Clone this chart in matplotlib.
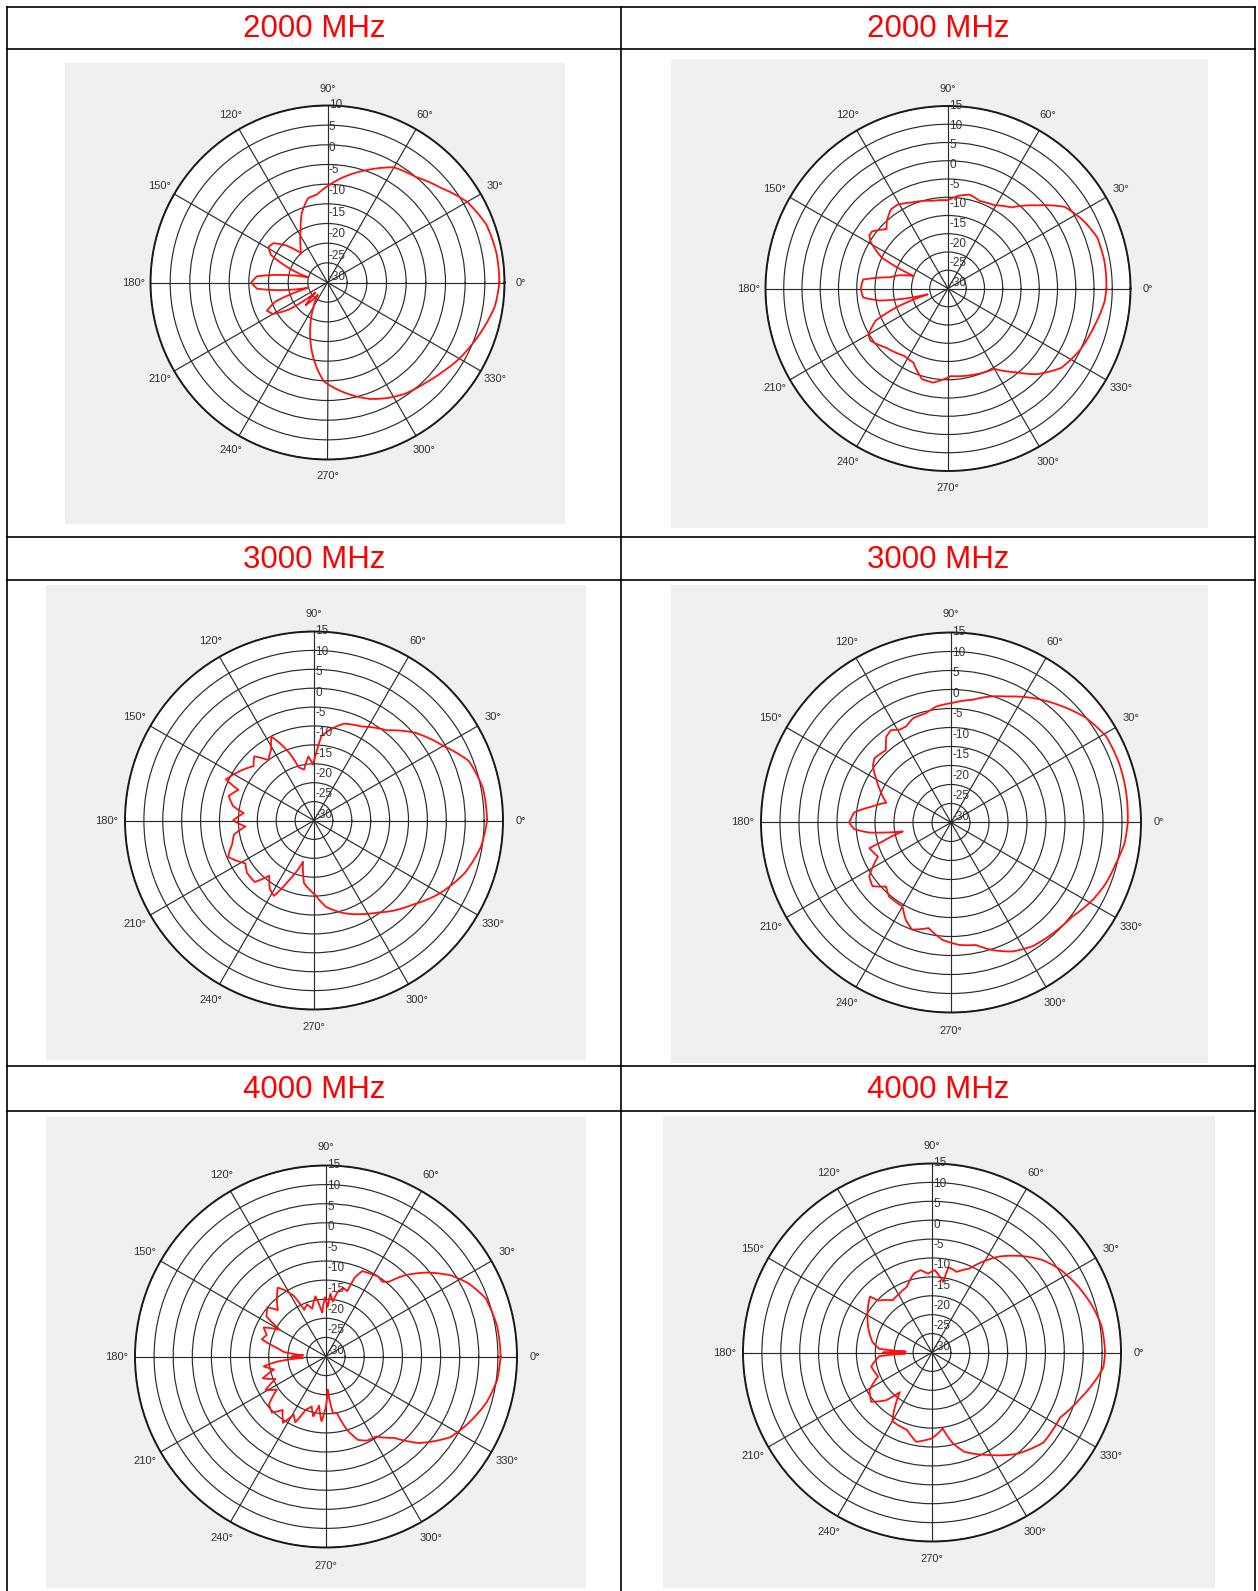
import numpy as np
import matplotlib
matplotlib.use('Agg')
import matplotlib.pyplot as plt
from matplotlib.patches import Rectangle

plt.rcParams['font.family'] = ['Liberation Sans', 'DejaVu Sans']

W, H = 1258, 1591
RMIN = -35

# 1. Radiation patterns: angle (deg) -> gain (dB)
tl_ang = [0, 10, 20, 30, 40, 50, 60, 70, 80, 90, 97, 103, 110, 117, 125, 132, 138, 144, 149, 154,
          160, 165, 170, 175, 180, 185, 190, 195, 200, 205, 210, 215, 220, 226, 232, 240, 247, 253, 258, 263,
          268, 279, 290, 297, 305, 314, 322, 330, 337, 344, 352, 360]
tl_db = [8.7, 8.6, 8.0, 6.0, 2.5, 0.0, -1.2, -4.5, -7.5, -10.5, -12.5, -13.0, -16, -20, -23, -25, -21, -18, -17.5, -19,
         -25, -30, -24, -17, -15.6, -17, -24, -30, -21, -18, -19, -23, -31, -27, -31, -28, -24, -20, -16.5, -13,
         -9.8, -6.6, -3.5, -2, -0.5, 0.6, 2.0, 3.7, 5.0, 6.4, 8.0, 8.7]

tr_ang = [0, 10, 19, 27, 35, 43, 52, 61, 70, 77, 84, 90, 100, 113, 121, 126, 132, 136, 143, 146,
          149, 155, 160, 165, 169, 174, 180, 186, 190, 196, 200, 204, 210, 214, 224, 237, 245, 254, 261, 272,
          286, 300, 309, 316, 325, 335, 345, 355, 360]
tr_db = [8.4, 8.5, 8.2, 6.4, 4.0, -1.6, -6.8, -8.9, -9.5, -8.6, -9.5, -10.8, -10.6, -9.4, -8.2, -8.3, -10, -11.6, -9, -9,
         -10.3, -15, -25, -21, -18.9, -11.6, -11.1, -11.6, -16, -29.2, -20, -13.3, -9.8, -9.4, -11.6, -13, -12.6, -9.2, -8.9, -11,
         -10.4, -9.6, -5.5, -1.2, 2.9, 4.9, 6.3, 8.0, 8.4]

ml_ang = [0, 11, 21, 30, 41, 51, 63, 73, 80, 85, 88, 91, 95, 101, 106, 110, 114, 117, 121, 127,
          133, 138, 144, 150, 155, 158, 164, 170, 174, 180, 185, 190, 196, 203, 212, 218, 226, 231, 237, 242,
          247, 255, 261, 271, 278, 288, 297, 305, 312, 319, 330, 341, 351, 360]
ml_db = [10.8, 10.5, 8.9, 4.5, 0.4, -4.3, -7.1, -8.2, -10.6, -12.6, -17.1, -20.2, -18, -21.3, -20.4, -16, -12.5, -10.1, -13, -15,
         -11.8, -13.5, -12, -10.5, -9.3, -13.4, -11.5, -13.3, -16.3, -13.6, -16.8, -13.5, -12.5, -10.3, -13.6, -12.5, -12.4, -16.2, -13.5, -12.4,
         -17.6, -23.7, -18.2, -15.3, -11.9, -9.2, -7.2, -5.3, -3, -0.9, 3.5, 7.3, 9.7, 10.8]

mr_ang = [0, 11, 19, 29, 38, 47, 57, 66, 73, 80, 90, 97, 103, 110, 115, 119, 123, 127, 132, 140,
          144, 150, 155, 163, 169, 174, 180, 184, 187, 190.5, 195.5, 197.5, 205, 208, 213.5, 219, 224.6, 230, 240, 245,
          250, 258, 266, 274, 281.5, 288, 295.5, 303.4, 312.6, 322.3, 331.4, 338.6, 346, 353.2, 360]
mr_db = [11.5, 11.8, 11.9, 11.7, 9.9, 7.1, 4.1, 1.3, -0.35, -2.2, -3.6, -4.2, -5.5, -5.8, -7.1, -7.1, -6, -6.7, -9.4, -8.7,
         -9.6, -12.3, -14.3, -17.2, -13.5, -9.4, -8.2, -9.5, -13.3, -22.1, -16.3, -12.5, -13.8, -12.2, -9.2, -8.4, -11, -9.6, -9.5, -6.8,
         -5, -6.6, -4, -2.7, -2.1, 0.3, 2.6, 4, 4.6, 5.4, 7.5, 8.8, 9.7, 11, 11.5]

bl_ang = [0, 10, 20, 27, 33, 40, 46, 50, 53, 57, 63, 67, 70, 72, 76, 80, 83, 86, 88, 91,
          95, 100, 106, 110, 115, 118, 122, 125, 130, 136, 140, 146, 150, 155, 160, 165, 170, 174, 177, 180,
          183, 186, 189, 194, 199, 204, 209, 214, 220, 226, 231, 237, 241, 245, 249, 254, 258, 262, 266, 270,
          273, 277, 281, 286, 291, 296, 302, 310, 317, 327, 335, 344, 352, 360]
bl_db = [10.7, 10.5, 9.5, 7, 4, -0.8, -5.5, -9.5, -10.5, -10, -10.5, -10.7, -13, -17, -16.5, -18, -20.5, -18.5, -22, -19.5,
         -23.5, -19, -22, -20.5, -21.5, -17, -14.5, -13, -15, -17.5, -15, -16.2, -21, -17, -18.5, -17.6, -22, -24, -29, -26,
         -29, -22, -18.5, -21, -17.5, -20.5, -16.9, -19.5, -15.5, -14.6, -17, -14.3, -17.6, -16, -20, -21.4, -19, -22, -18, -22,
         -26.3, -20, -19.9, -15, -11.6, -10.5, -10.3, -7.2, -1.8, 3.8, 6.2, 8.7, 10.2, 10.7]

br_ang = [0, 9, 16, 24, 33, 40, 47, 55, 61, 66, 73, 79, 81, 88, 93, 98, 103, 111, 119, 127,
          136, 138, 149, 163, 170, 176, 178, 180, 182, 184, 193, 204, 211, 219, 226, 231, 240, 252, 260, 270,
          278, 283, 288, 299, 310, 321, 333, 342, 351, 355, 360]
br_db = [10.8, 10.4, 9.2, 7.5, 5.4, 3.1, -0.1, -4, -7.6, -10.7, -12.7, -12, -16.1, -13.2, -14.1, -13, -13.6, -16.4, -17.2, -17.7,
         -15.2, -12.9, -15.1, -17.7, -19, -21, -28, -22, -28, -21, -18.5, -19.4, -15.7, -14.3, -17.4, -21.5, -14, -13.5, -11, -12.3,
         -14.7, -10.3, -7.4, -4, 0, 2.9, 3, 5.8, 9.1, 10.5, 10.8]

headers = ['2000 MHz', '3000 MHz', '4000 MHz']
rmax_list = [10, 15, 15, 15, 15, 15]
patterns = [(tl_ang, tl_db), (tr_ang, tr_db), (ml_ang, ml_db),
            (mr_ang, mr_db), (bl_ang, bl_db), (br_ang, br_db)]

# 2. Page layout in pixels
centers = [(327.5, 282.5, 177), (948, 288.5, 182.5), (314, 820.5, 189),
           (951, 822.5, 190), (326, 1356.5, 191), (932, 1352.5, 189)]
panels = [(65, 63, 565, 524), (671, 59, 1208, 528), (46, 585, 586, 1060),
          (671, 585, 1208, 1063), (46, 1117, 586, 1588), (663, 1116, 1215, 1588)]
col_x = [7, 621, 1255]
row_y = [7, 49, 537, 580, 1066, 1111]

fig = plt.figure(figsize=(W / 100, H / 100), dpi=100)
fig.patch.set_facecolor('white')

bg = fig.add_axes([0, 0, 1, 1])
bg.set_xlim(0, W)
bg.set_ylim(H, 0)
bg.axis('off')

for x0, y0, x1, y1 in panels:
    bg.add_patch(Rectangle((x0, y0), x1 - x0, y1 - y0, facecolor='#f0f0f0', edgecolor='none'))

for x in col_x:
    bg.plot([x, x], [row_y[0], H], color='black', lw=1.2)
for y in row_y:
    bg.plot([col_x[0], col_x[-1]], [y, y], color='black', lw=1.2)

# header texts, one per column per row
for i, txt in enumerate(headers):
    yc = (row_y[2 * i] + row_y[2 * i + 1]) / 2
    for c in range(2):
        xc = (col_x[c] + col_x[c + 1]) / 2
        bg.text(xc, yc + 1, txt, color='#ff0000', fontsize=22.5, ha='center', va='center')


# 3. Polar panels
def polar_panel(cx, cy, R, ang, db, rmax):
    ax = fig.add_axes([(cx - R) / W, 1 - (cy + R) / H, 2 * R / W, 2 * R / H], projection='polar')
    ax.set_ylim(RMIN, rmax)
    ax.set_rticks(np.arange(-30, rmax + 1, 5))
    ax.set_yticklabels([])
    ax.set_thetagrids(np.arange(0, 360, 30), labels=[''] * 12)
    ax.grid(True, color='#2a2a2a', lw=0.85)
    ax.spines['polar'].set_color('#1a1a1a')
    ax.spines['polar'].set_linewidth(1.4)
    ax.set_facecolor('white')

    line, = ax.plot(np.deg2rad(ang), db, color='#ff1010', lw=1.3)
    # let the polar transform bend each segment along the angle
    line.get_path()._interpolation_steps = 12

    # angle labels around the rim
    r_lab = RMIN + 1.095 * (rmax - RMIN)
    for a in range(0, 360, 30):
        ax.text(np.deg2rad(a), r_lab, f'{a}\u00b0', ha='center', va='center',
                fontsize=8, color='#333333', clip_on=False)

    # dB labels up the 90 degree axis
    levels = np.arange(rmax, -31, -5)
    for v in levels:
        f = 0.03 + 0.97 * (v + 30) / (rmax + 30)
        r = RMIN + f * (rmax - RMIN)
        ax.annotate(str(v), xy=(np.pi / 2, r), xytext=(1.0, 0), textcoords='offset points',
                    ha='left', va='center', fontsize=8.5, color='#333333', annotation_clip=False)
    return ax


for (cx, cy, R), (ang, db), rmax in zip(centers, patterns, rmax_list):
    polar_panel(cx, cy, R, ang, db, rmax)

fig.savefig('out.png', dpi=100, facecolor='white')
